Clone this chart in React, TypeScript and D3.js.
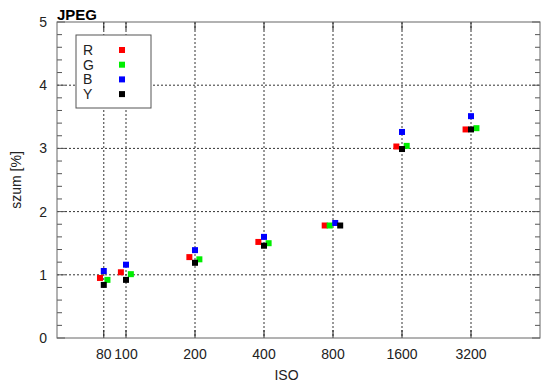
"use client"

import type React from "react"
import { useEffect, useRef } from "react"
import * as d3 from "d3"

// nominal ISO ticks
const isoTicks = [80, 100, 200, 400, 800, 1600, 3200]
const yTicks = [0, 1, 2, 3, 4, 5]

// effective x position of each channel's marker (ISO units)
const rIso = [77, 95, 189, 378, 736, 1512, 3030]
const gIso = [83, 105, 209, 419, 774, 1677, 3380]
const bIso = [80, 100, 200, 400, 818, 1600, 3200]
const yIso = [80, 100, 200, 400, 860, 1600, 3200]

// noise values [%]
const rNoise = [0.95, 1.04, 1.28, 1.52, 1.78, 3.03, 3.3]
const gNoise = [0.92, 1.01, 1.245, 1.5, 1.78, 3.04, 3.32]
const bNoise = [1.06, 1.16, 1.39, 1.6, 1.82, 3.26, 3.51]
const yNoise = [0.84, 0.92, 1.19, 1.46, 1.78, 2.99, 3.3]

const seriesNames = ["R", "G", "B", "Y"]
const seriesColors = ["#ff0000", "#00ee00", "#0000ff", "#000000"]

const App: React.FC = () => {
  const svgRef = useRef<SVGSVGElement | null>(null)

  useEffect(() => {
    const width = 550
    const height = 389
    const margin = { top: 22, right: 10, bottom: 51, left: 57 }
    const w = width - margin.left - margin.right
    const h = height - margin.top - margin.bottom
    const font = "'Liberation Sans', Arial, sans-serif"

    const svg = d3.select(svgRef.current).attr("width", width).attr("height", height)
    svg.selectAll("*").remove()
    svg.append("rect").attr("width", width).attr("height", height).attr("fill", "#fff")

    const g = svg.append("g").attr("transform", `translate(${margin.left},${margin.top})`)

    const x = d3.scaleLog().domain([50, 6400]).range([0, w])
    const y = d3.scaleLinear().domain([0, 5]).range([h, 0])

    // grid
    g.selectAll(".vgrid")
      .data(isoTicks)
      .enter()
      .append("line")
      .attr("x1", (d) => x(d))
      .attr("x2", (d) => x(d))
      .attr("y1", 0)
      .attr("y2", h)
      .attr("stroke", "#333")
      .attr("stroke-dasharray", "2,2")
    g.selectAll(".hgrid")
      .data(yTicks.slice(1, -1))
      .enter()
      .append("line")
      .attr("x1", 0)
      .attr("x2", w)
      .attr("y1", (d) => y(d))
      .attr("y2", (d) => y(d))
      .attr("stroke", "#333")
      .attr("stroke-dasharray", "2,2")

    // minor y ticks, both sides
    const minor = d3.range(0, 5.01, 0.2)
    g.selectAll(".ytick")
      .data(minor)
      .enter()
      .append("path")
      .attr("d", (d) => {
        const len = Math.abs(d - Math.round(d)) < 1e-6 ? 8 : 5
        return `M0,${y(d)}h${len}M${w},${y(d)}h${-len}`
      })
      .attr("stroke", "#555")

    // x ticks, bottom and top
    g.selectAll(".xtick")
      .data(isoTicks)
      .enter()
      .append("path")
      .attr("d", (d) => `M${x(d)},${h}v-8M${x(d)},0v8`)
      .attr("stroke", "#222")

    // frame
    g.append("rect")
      .attr("width", w)
      .attr("height", h)
      .attr("fill", "none")
      .attr("stroke", "#666")

    // tick labels
    g.selectAll(".ylab")
      .data(yTicks)
      .enter()
      .append("text")
      .attr("x", -10)
      .attr("y", (d) => y(d) + 5)
      .attr("text-anchor", "end")
      .attr("font-family", font)
      .attr("font-size", 14)
      .attr("fill", "#222")
      .text((d) => d)

    g.selectAll(".xlab")
      .data(isoTicks)
      .enter()
      .append("text")
      .attr("x", (d) => x(d))
      .attr("y", h + 21)
      .attr("text-anchor", "middle")
      .attr("font-family", font)
      .attr("font-size", 14)
      .attr("fill", "#222")
      .text((d) => d)

    g.append("text")
      .attr("x", w / 2 - 12)
      .attr("y", h + 42)
      .attr("text-anchor", "middle")
      .attr("font-family", font)
      .attr("font-size", 14)
      .attr("fill", "#222")
      .text("ISO")

    svg.append("text")
      .attr("transform", `translate(21,${margin.top + h / 2}) rotate(-90)`)
      .attr("text-anchor", "middle")
      .attr("font-family", font)
      .attr("font-size", 14)
      .attr("fill", "#222")
      .text("szum [%]")

    svg.append("text")
      .attr("x", margin.left)
      .attr("y", 20)
      .attr("font-family", font)
      .attr("font-weight", "bold")
      .attr("font-size", 15)
      .attr("fill", "#000")
      .text("JPEG")

    // legend
    const leg = svg.append("g").attr("transform", "translate(76,35)")
    leg.append("rect")
      .attr("width", 75)
      .attr("height", 73)
      .attr("fill", "#fff")
      .attr("stroke", "#555")
    seriesNames.forEach((name, i) => {
      const cy = 15 + i * 14.7
      leg.append("text")
        .attr("x", 7)
        .attr("y", cy + 5)
        .attr("font-family", font)
        .attr("font-size", 14)
        .attr("fill", "#222")
        .text(name)
      leg.append("rect")
        .attr("x", 43)
        .attr("y", cy - 3)
        .attr("width", 6)
        .attr("height", 6)
        .attr("fill", seriesColors[i])
    })

    // markers
    const series = [
      { iso: rIso, vals: rNoise },
      { iso: gIso, vals: gNoise },
      { iso: bIso, vals: bNoise },
      { iso: yIso, vals: yNoise },
    ]
    series.forEach((s, i) => {
      g.selectAll(`.m${i}`)
        .data(s.vals)
        .enter()
        .append("rect")
        .attr("x", (_d, j) => x(s.iso[j]) - 3)
        .attr("y", (d) => y(d) - 3)
        .attr("width", 6)
        .attr("height", 6)
        .attr("fill", seriesColors[i])
    })
  }, [])

  return <svg ref={svgRef} style={{ position: "absolute", left: 0, top: 0 }}></svg>
}

export default App
